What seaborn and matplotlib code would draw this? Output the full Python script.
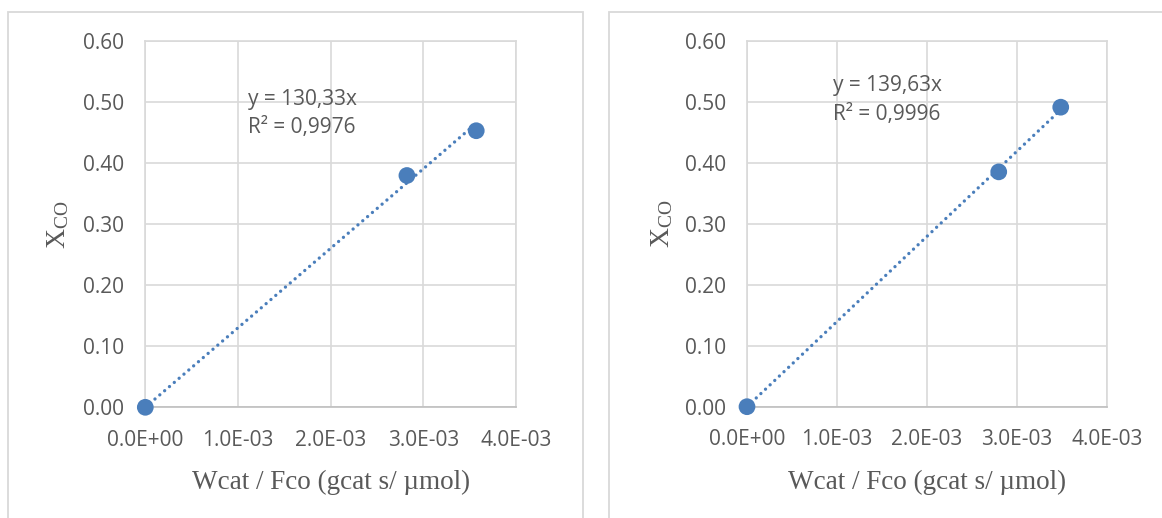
import matplotlib
matplotlib.use("Agg")
import matplotlib.pyplot as plt
from matplotlib.patches import Rectangle
import numpy as np
import pandas as pd
import seaborn as sns

# Wcat / Fco (gcat s/ umol) and CO conversion, one list per chart
x_left = [0.0, 2.823e-3, 3.571e-3]
y_left = [0.0, 0.380, 0.4534]
x_right = [0.0, 2.797e-3, 3.486e-3]
y_right = [0.0, 0.385, 0.491]

# linear trend through origin, as printed on the charts
slopes = [130.33, 139.63]
eq_labels = ["y = 130,33x\nR² = 0,9976", "y = 139,63x\nR² = 0,9996"]

x_ticks = [0.0, 1e-3, 2e-3, 3e-3, 4e-3]
x_ticklabels = ["0.0E+00", "1.0E-03", "2.0E-03", "3.0E-03", "4.0E-03"]
y_ticks = [0.0, 0.1, 0.2, 0.3, 0.4, 0.5, 0.6]
y_ticklabels = ["0.00", "0.10", "0.20", "0.30", "0.40", "0.50", "0.60"]

BLUE = "#4a7ebb"
GRID = "#d9d9d9"
TEXT = "#595959"

sns.set_theme(style="white")
plt.rcParams["font.family"] = ["Open Sans", "DejaVu Sans"]
plt.rcParams["mathtext.fontset"] = "custom"
plt.rcParams["mathtext.rm"] = "Liberation Serif"
plt.rcParams["mathtext.it"] = "Liberation Serif"

fig = plt.figure(figsize=(11.62, 5.18), dpi=100)

# panel frames (chart areas)
fig.add_artist(Rectangle((8 / 1162, -0.1), (582.7 - 8) / 1162, 1.1 - 12 / 518,
                         transform=fig.transFigure, fill=False, ec=GRID, lw=1.3))
fig.add_artist(Rectangle((609 / 1162, -0.1), 0.6, 1.1 - 12 / 518,
                         transform=fig.transFigure, fill=False, ec=GRID, lw=1.3))

axes_pos = [
    [145.3 / 1162, 1 - 407.3 / 518, (516 - 145.3) / 1162, 366 / 518],
    [747 / 1162, 1 - 406.7 / 518, (1107 - 747) / 1162, 366 / 518],
]
text_pos = [(1.108e-3, 0.522), (0.955e-3, 0.543)]

for i, (xs, ys) in enumerate([(x_left, y_left), (x_right, y_right)]):
    ax = fig.add_axes(axes_pos[i])
    df = pd.DataFrame({"w": xs, "x": ys})

    # dotted linear trendline over the data range
    trend = pd.DataFrame({"w": [0.0, max(xs)]})
    trend["x"] = slopes[i] * trend["w"]
    sns.lineplot(data=trend, x="w", y="x", ax=ax, color=BLUE, lw=2.4,
                 linestyle=(0, (0.01, 1.9)), dash_capstyle="round", zorder=3)
    sns.scatterplot(data=df, x="w", y="x", ax=ax, color=BLUE, s=145,
                    edgecolor="none", zorder=4, clip_on=False)

    ax.set_xlim(0, 4e-3)
    ax.set_ylim(0, 0.6)
    ax.set_xticks(x_ticks)
    ax.set_xticklabels(x_ticklabels)
    ax.set_yticks(y_ticks)
    ax.set_yticklabels(y_ticklabels)
    ax.tick_params(axis="both", length=0, labelsize=15, colors=TEXT)
    ax.tick_params(axis="x", pad=16)
    ax.tick_params(axis="y", pad=15)
    ax.grid(True, color=GRID, lw=1.2)
    ax.set_axisbelow(True)
    for side in ["left", "top", "right"]:
        ax.spines[side].set_color(GRID)
        ax.spines[side].set_linewidth(1.2)
    ax.spines["bottom"].set_color("#bfbfbf")
    ax.spines["bottom"].set_linewidth(1.2)

    ax.set_xlabel("Wcat / Fco (gcat s/ µmol)", family="Liberation Serif",
                  fontsize=19.5, color=TEXT, labelpad=14)
    ax.set_ylabel("")
    ax.text(-0.235, 0.5, r"X$_{\mathrm{CO}}$", transform=ax.transAxes,
            rotation=90, ha="center", va="center", family="Liberation Serif",
            fontsize=20, color=TEXT)

    ax.text(text_pos[i][0], text_pos[i][1], eq_labels[i], ha="left", va="top",
            fontsize=15, color=TEXT, linespacing=1.45)

fig.savefig("out.png", dpi=100, facecolor="white")
